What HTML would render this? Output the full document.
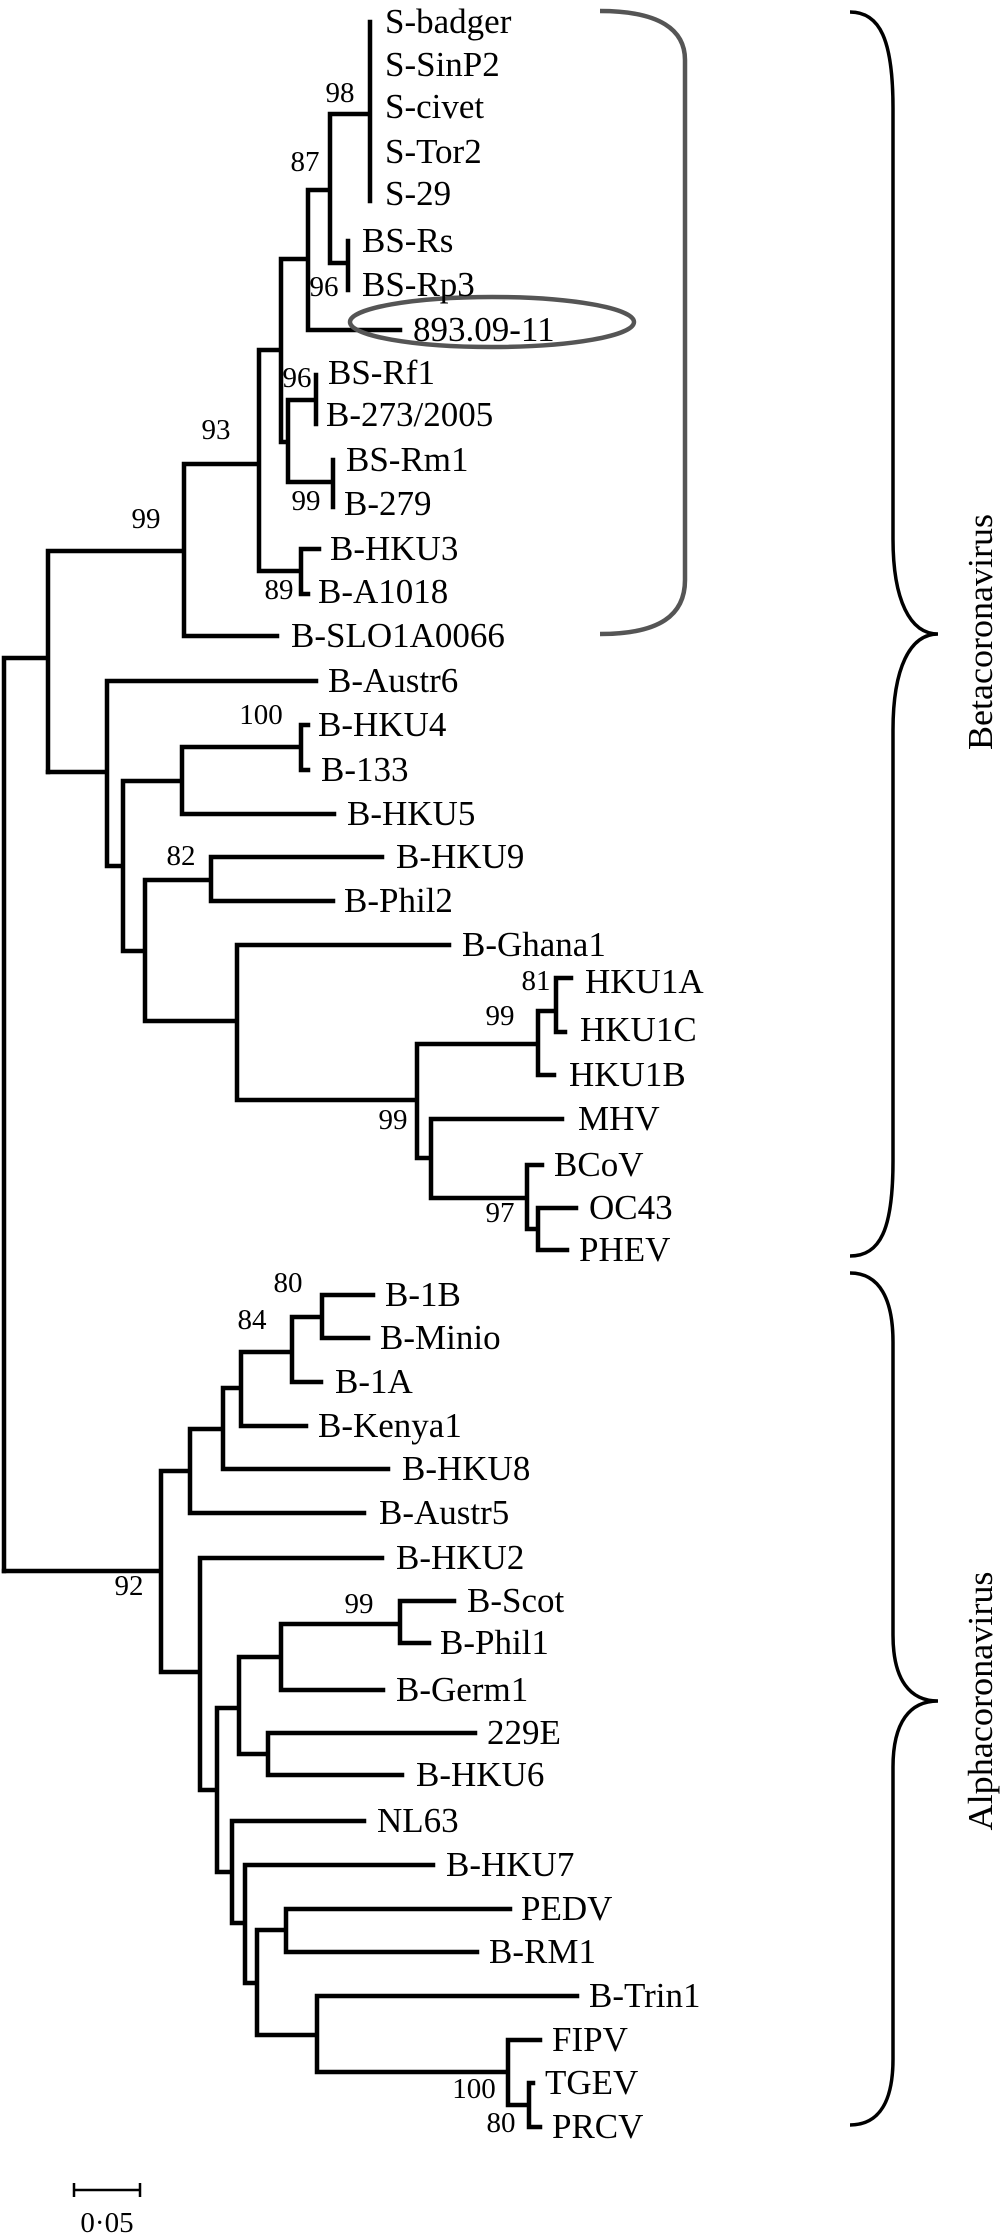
<!DOCTYPE html>
<html><head><meta charset="utf-8"><style>
html,body{margin:0;padding:0;background:#fff;}
svg{display:block;}
text{font-family:"Liberation Serif",serif;fill:#000;}
.l{font-size:35px;}
.s{font-size:29px;text-anchor:middle;}
</style></head><body>
<svg width="1000" height="2238" viewBox="0 0 1000 2238" xmlns="http://www.w3.org/2000/svg">
<g stroke="#000" stroke-width="4.5" stroke-linecap="square" fill="none">
<path d="M4 658H48M4 658V1571M48 551V772M48 551H184M184 464V636M184 636H277M184 464H259M259 350V571M259 350H281M259 571H301M301 549V594M301 549H319M301 594H308M281 259V442M281 259H308M281 442H288M288 400V482M288 400H316M316 375V424M288 482H333M333 460V507M308 190V330M308 190H330M308 330H400M330 114V263M330 114H370M370 22V201M330 263H348M348 241V290"/>
<path d="M48 772H107M107 681V866M107 681H316M107 866H123M123 781V951M123 781H182M182 747V814M182 747H301M301 725V770M301 725H308M301 770H308M182 814H334M123 951H145M145 880V1021M145 880H211M211 857V901M211 857H382M211 901H333M145 1021H237M237 945V1100M237 945H449M237 1100H417M417 1044V1158M417 1044H538M538 1011V1075M538 1075H554M538 1011H556M556 978V1032M556 978H571M556 1032H565M417 1158H431M431 1119V1198M431 1119H562M431 1198H527M527 1165V1229M527 1165H542M527 1229H538M538 1208V1250M538 1208H576M538 1250H567"/>
<path d="M4 1571H161M161 1471V1672M161 1471H190M190 1429V1513M190 1513H364M190 1429H223M223 1388V1469M223 1469H388M223 1388H241M241 1352V1426M241 1426H306M241 1352H292M292 1317V1382M292 1382H321M292 1317H322M322 1295V1338M322 1295H373M322 1338H368M161 1672H200M200 1558V1790M200 1558H382M200 1790H217M217 1708V1872M217 1708H239M239 1657V1754M239 1657H281M281 1624V1690M281 1690H383M281 1624H400M400 1601V1643M400 1601H454M400 1643H429M239 1754H268M268 1733V1775M268 1733H475M268 1775H402M217 1872H232M232 1821V1923M232 1821H364M232 1923H245M245 1865V1983M245 1865H433M245 1983H257M257 1930V2035M257 1930H286M286 1909V1952M286 1909H510M286 1952H477M257 2035H317M317 1996V2072M317 1996H577M317 2072H508M508 2040V2105M508 2040H540M508 2105H529M529 2083V2127M529 2083H533M529 2127H540"/>
</g>
<g stroke="#555" stroke-width="4.5" fill="none">
<path d="M600 11C660 11 685 30 685 60V580C685 615 660 634 600 634"/>
<ellipse cx="492" cy="322" rx="142" ry="25"/>
</g>
<g stroke="#000" stroke-width="3.5" fill="none">
<path d="M850 12C880 12 893 40 893 108V539C893 600 910 634 938 634C910 634 893 668 893 730V1161C893 1230 880 1256 850 1256"/>
<path d="M850 1273C880 1273 893 1300 893 1342V1635C893 1680 910 1701 938 1701C910 1701 893 1722 893 1767V2059C893 2100 880 2125 850 2125"/>
</g>
<g stroke="#000" stroke-width="2.5"><path d="M74 2190H140M74 2183V2197M140 2183V2197"/></g>
<g class="l">
<text x="385" y="33">S-badger</text>
<text x="385" y="76">S-SinP2</text>
<text x="385" y="118">S-civet</text>
<text x="385" y="163">S-Tor2</text>
<text x="385" y="205">S-29</text>
<text x="362" y="252">BS-Rs</text>
<text x="362" y="296">BS-Rp3</text>
<text x="413" y="341">893.09-11</text>
<text x="328" y="384">BS-Rf1</text>
<text x="326" y="426">B-273/2005</text>
<text x="346" y="471">BS-Rm1</text>
<text x="344" y="515">B-279</text>
<text x="330" y="560">B-HKU3</text>
<text x="318" y="603">B-A1018</text>
<text x="291" y="647">B-SLO1A0066</text>
<text x="328" y="692">B-Austr6</text>
<text x="318" y="736">B-HKU4</text>
<text x="321" y="781">B-133</text>
<text x="347" y="825">B-HKU5</text>
<text x="396" y="868">B-HKU9</text>
<text x="344" y="912">B-Phil2</text>
<text x="462" y="956">B-Ghana1</text>
<text x="585" y="993">HKU1A</text>
<text x="580" y="1041">HKU1C</text>
<text x="569" y="1086">HKU1B</text>
<text x="578" y="1130">MHV</text>
<text x="554" y="1176">BCoV</text>
<text x="589" y="1219">OC43</text>
<text x="579" y="1261">PHEV</text>
<text x="385" y="1306">B-1B</text>
<text x="380" y="1349">B-Minio</text>
<text x="335" y="1393">B-1A</text>
<text x="318" y="1437">B-Kenya1</text>
<text x="402" y="1480">B-HKU8</text>
<text x="379" y="1524">B-Austr5</text>
<text x="396" y="1569">B-HKU2</text>
<text x="467" y="1612">B-Scot</text>
<text x="440" y="1654">B-Phil1</text>
<text x="396" y="1701">B-Germ1</text>
<text x="487" y="1744">229E</text>
<text x="416" y="1786">B-HKU6</text>
<text x="377" y="1832">NL63</text>
<text x="446" y="1876">B-HKU7</text>
<text x="521" y="1920">PEDV</text>
<text x="489" y="1963">B-RM1</text>
<text x="589" y="2007">B-Trin1</text>
<text x="552" y="2051">FIPV</text>
<text x="545" y="2094">TGEV</text>
<text x="552" y="2138">PRCV</text>
</g>
<g class="s">
<text x="340" y="102">98</text>
<text x="305" y="171">87</text>
<text x="324" y="296">96</text>
<text x="297" y="387">96</text>
<text x="216" y="439">93</text>
<text x="306" y="510">99</text>
<text x="146" y="528">99</text>
<text x="279" y="599">89</text>
<text x="261" y="724">100</text>
<text x="181" y="865">82</text>
<text x="536" y="990">81</text>
<text x="500" y="1025">99</text>
<text x="393" y="1129">99</text>
<text x="500" y="1222">97</text>
<text x="288" y="1292">80</text>
<text x="252" y="1329">84</text>
<text x="129" y="1595">92</text>
<text x="359" y="1613">99</text>
<text x="474" y="2098">100</text>
<text x="501" y="2132">80</text>
<text x="107" y="2232">0·05</text>
</g>
<text transform="translate(992,632) rotate(-90)" text-anchor="middle" font-size="35" textLength="236" lengthAdjust="spacingAndGlyphs">Betacoronavirus</text>
<text transform="translate(992,1701) rotate(-90)" text-anchor="middle" font-size="35" textLength="259" lengthAdjust="spacingAndGlyphs">Alphacoronavirus</text>
</svg>
</body></html>
